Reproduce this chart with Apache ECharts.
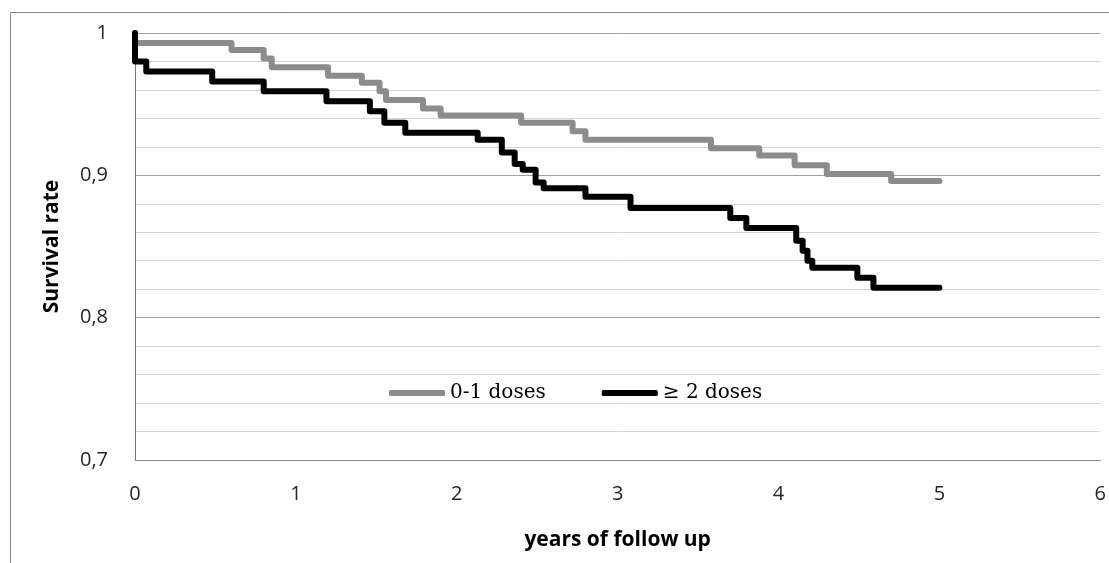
<!DOCTYPE html>
<html>
<head>
<meta charset="utf-8">
<script src="https://cdn.jsdelivr.net/npm/echarts@6/dist/echarts.min.js"></script>
<style>
  html, body { margin: 0; padding: 0; background: #fff; }
  #chart { width: 1109px; height: 563px; }
</style>
</head>
<body>
<div id="chart"></div>
<script>
// 0-1 doses (gray curve) - event times and survival after each step
const lowDoseTimes = [0, 0, 0.6, 0.8, 0.85, 1.2, 1.41, 1.52, 1.56, 1.79, 1.9, 2.4, 2.72, 2.8, 3.58, 3.88, 4.1, 4.3, 4.7, 5.0];
const lowDoseSurv = [1, 0.993, 0.988, 0.982, 0.976, 0.970, 0.965, 0.959, 0.953, 0.947, 0.942, 0.937, 0.931, 0.925, 0.919, 0.914, 0.907, 0.901, 0.896, 0.896];

// >= 2 doses (black curve)
const highDoseTimes = [0, 0, 0.07, 0.48, 0.8, 1.19, 1.46, 1.55, 1.68, 2.13, 2.28, 2.36, 2.41, 2.49, 2.54, 2.8, 3.08, 3.7, 3.8, 4.11, 4.15, 4.18, 4.21, 4.49, 4.59, 5.0];
const highDoseSurv = [1, 0.980, 0.973, 0.966, 0.959, 0.952, 0.945, 0.937, 0.930, 0.925, 0.916, 0.908, 0.904, 0.895, 0.891, 0.885, 0.877, 0.870, 0.863, 0.854, 0.847, 0.840, 0.835, 0.828, 0.821, 0.821];

const seriesNames = ["0-1 doses", "\u2265 2 doses"];
const xTicks = [0, 1, 2, 3, 4, 5, 6];

function pairs(ts, vs) {
  return ts.map((t, i) => [t, vs[i]]);
}

const chart = echarts.init(document.getElementById("chart"));
chart.setOption({
  animation: false,
  graphic: [
    {
      type: "rect",
      left: 8,
      top: 10,
      shape: { width: 1200, height: 700 },
      style: { fill: "none", stroke: "#8a8a8a", lineWidth: 1 },
      silent: true,
    },
  ],
  grid: { left: 135, right: 5, top: 33, bottom: 103 },
  legend: {
    left: 389,
    top: 383,
    padding: 0,
    itemWidth: 56,
    itemHeight: 6,
    itemGap: 56,
    icon: "roundRect",
    textStyle: { fontFamily: "DejaVu Serif", fontSize: 20, color: "#000" },
    data: seriesNames,
  },
  xAxis: {
    type: "value",
    min: xTicks[0],
    max: xTicks[xTicks.length - 1],
    interval: 1,
    name: "years of follow up",
    nameLocation: "middle",
    nameGap: 70,
    nameTextStyle: { fontFamily: "Open Sans", fontWeight: "bold", fontSize: 21, color: "#000" },
    axisLine: { show: true, lineStyle: { color: "#8a8a8a" } },
    axisTick: { show: false },
    axisLabel: { fontFamily: "Open Sans", fontSize: 20, color: "#262626", margin: 24 },
    splitLine: { show: false },
  },
  yAxis: {
    type: "value",
    min: 0.7,
    max: 1,
    interval: 0.1,
    name: "Survival rate",
    nameLocation: "middle",
    nameGap: 72,
    nameTextStyle: { fontFamily: "Open Sans", fontWeight: "bold", fontSize: 21, color: "#000" },
    axisLine: { show: true, lineStyle: { color: "#7a7a7a" } },
    axisTick: { show: false },
    axisLabel: {
      fontFamily: "Open Sans",
      fontSize: 20,
      color: "#262626",
      margin: 27,
      formatter: (v) => (Math.round(v * 10) / 10).toString().replace(".", ","),
    },
    splitLine: { show: true, lineStyle: { color: "#a0a0a0" } },
    minorTick: { show: false, splitNumber: 5 },
    minorSplitLine: { show: true, lineStyle: { color: "#d4d4d4" } },
  },
  series: [
    {
      name: seriesNames[0],
      type: "line",
      step: "end",
      showSymbol: false,
      lineStyle: { color: "#8c8c8c", width: 6, join: "round", cap: "round" },
      itemStyle: { color: "#8c8c8c" },
      data: pairs(lowDoseTimes, lowDoseSurv),
    },
    {
      name: seriesNames[1],
      type: "line",
      step: "end",
      showSymbol: false,
      lineStyle: { color: "#000", width: 6, join: "round", cap: "round" },
      itemStyle: { color: "#000" },
      data: pairs(highDoseTimes, highDoseSurv),
    },
  ],
});
</script>
</body>
</html>
